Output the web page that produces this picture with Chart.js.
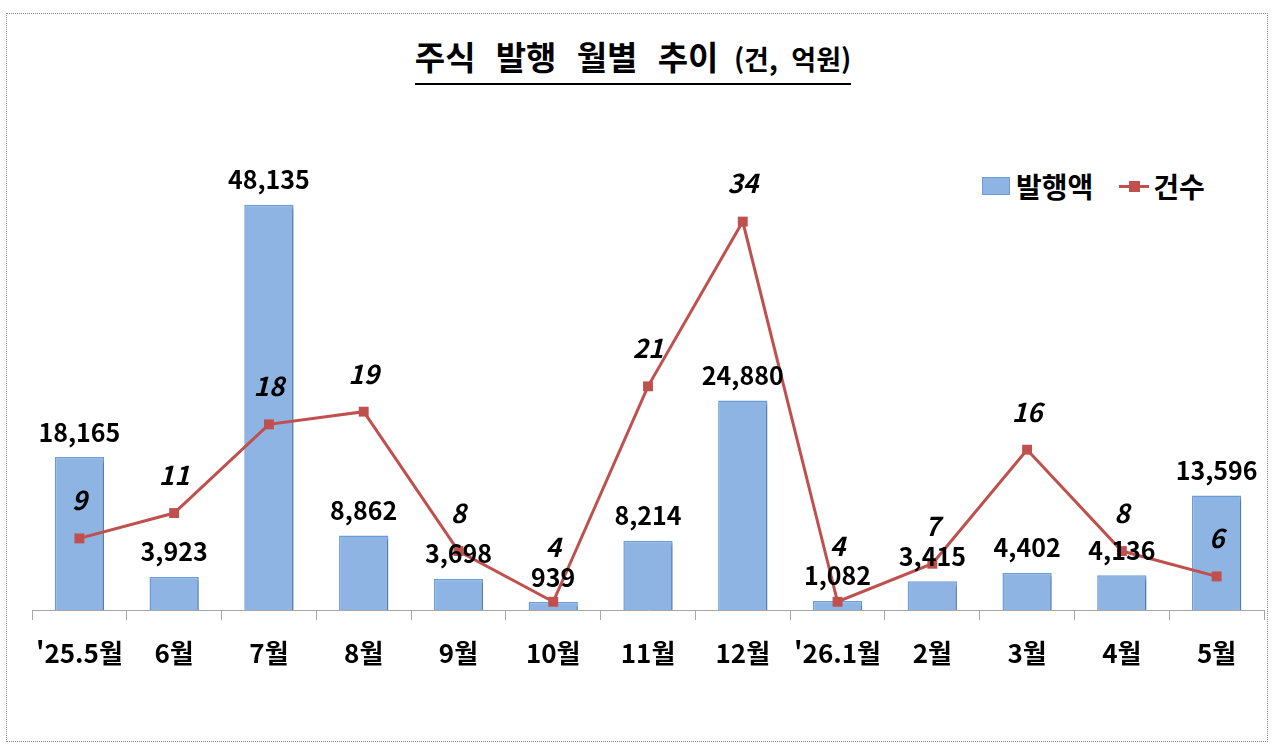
<!DOCTYPE html>
<html lang="ko">
<head>
<meta charset="utf-8">
<title>주식 발행 월별 추이</title>
<script src="https://cdn.jsdelivr.net/npm/chart.js@4.4.1/dist/chart.umd.min.js"></script>
<style>
  html, body { margin: 0; padding: 0; background: #fff; }
  body { width: 1280px; height: 756px; position: relative; overflow: hidden;
         font-family: "Noto Sans CJK KR", sans-serif; }
  .frame { position: absolute; left: 6px; top: 13px; width: 1262px; height: 729px;
           border: 1px dotted #8c8c8c; box-sizing: border-box; }
  .title { position: absolute; left: 0; width: 1266px; top: 38px; text-align: center; }
  .title span.t { display: inline-block; font-weight: 700; color: #000;
                  border-bottom: 2px solid #000; line-height: 36px; padding-bottom: 2px;
                  word-spacing: 11px; }
  .title .big { font-size: 33px; }
  .title .small { font-size: 27px; word-spacing: 6px; }
  .legend { position: absolute; top: 168px; left: 982px; font-weight: 700; font-size: 28px;
            color: #000; display: flex; align-items: center; line-height: 36px; }
  .legend .box { width: 26px; height: 16px; background: #8DB4E2; border: 1px solid #6B9BD8;
                 margin-right: 6px; }
  .legend .ln { position: relative; width: 30px; height: 3px; background: #C0504D;
                margin-left: 26px; margin-right: 4px; }
  .legend .ln::after { content: ""; position: absolute; left: 10px; top: -4px;
                       width: 11px; height: 11px; background: #C0504D; }
  #wrap { position: absolute; left: 0; top: 0; width: 1280px; height: 756px; }
</style>
</head>
<body>
<div class="frame"></div>
<div class="title"><span class="t"><span class="big">주식 발행 월별 추이</span> <span class="small">(건, 억원)</span></span></div>
<div class="legend"><div class="box"></div>발행액<div class="ln"></div>건수</div>
<div id="wrap"><canvas id="chart"></canvas></div>
<script>
const months = ["'25.5월", "6월", "7월", "8월", "9월", "10월", "11월", "12월", "'26.1월", "2월", "3월", "4월", "5월"];
const amounts = [18165, 3923, 48135, 8862, 3698, 939, 8214, 24880, 1082, 3415, 4402, 4136, 13596];
const counts = [9, 11, 18, 19, 8, 4, 21, 34, 4, 7, 16, 8, 6];

const FONT = '"Noto Sans CJK KR", sans-serif';
Chart.defaults.font.family = FONT;

// light drop shadow behind the bars, like the original
const barShadow = {
  id: "barShadow",
  beforeDatasetDraw(chart, args) {
    if (args.index !== 0) return;
    const ctx = chart.ctx;
    ctx.save();
    ctx.shadowColor = "rgba(0,0,0,0.2)";
    ctx.shadowOffsetX = 3;
    ctx.shadowOffsetY = 3;
    ctx.shadowBlur = 2;
  },
  afterDatasetDraw(chart, args) {
    if (args.index !== 0) return;
    chart.ctx.restore();
  },
};

// value labels above bars and line points
const valueLabels = {
  id: "valueLabels",
  afterDatasetsDraw(chart) {
    const ctx = chart.ctx;
    const bars = chart.getDatasetMeta(0).data;
    const pts = chart.getDatasetMeta(1).data;
    ctx.save();
    ctx.fillStyle = "#000";
    ctx.textAlign = "center";
    ctx.textBaseline = "middle";
    bars.forEach((bar, i) => {
      const barY = bar.y - 25;
      ctx.font = "bold 25px " + FONT;
      ctx.fillText(amounts[i].toLocaleString("en-US"), bar.x, barY);

      let lineY = pts[i].y - 38;
      if (Math.abs(lineY - barY) < 26) lineY = barY - 30;
      ctx.font = "italic bold 26px " + FONT;
      ctx.fillText(String(counts[i]), pts[i].x, lineY);
    });
    ctx.restore();
  },
};

new Chart(document.getElementById("chart"), {
  type: "bar",
  data: {
    labels: months,
    datasets: [
      {
        label: "발행액",
        data: amounts,
        yAxisID: "y",
        backgroundColor: "#8DB4E2",
        borderColor: "#6B9BD8",
        borderWidth: 1.5,
        categoryPercentage: 1,
        barPercentage: 0.52,
        order: 1,
      },
      {
        type: "line",
        label: "건수",
        data: counts,
        yAxisID: "y1",
        borderColor: "#C0504D",
        backgroundColor: "#C0504D",
        borderWidth: 3,
        pointStyle: "rect",
        pointRadius: 7,
        pointBorderWidth: 0,
        tension: 0,
        order: 0,
      },
    ],
  },
  options: {
    responsive: true,
    maintainAspectRatio: false,
    animation: false,
    layout: { padding: { top: 105, left: 32, right: 16, bottom: 0 } },
    plugins: {
      legend: { display: false },
      tooltip: { enabled: false },
    },
    scales: {
      x: {
        afterFit(scale) { scale.height = 146; },
        grid: {
          display: true,
          drawOnChartArea: false,
          tickLength: 10,
          color: "#A6A6A6",
        },
        border: { display: true, color: "#A6A6A6", width: 1 },
        ticks: {
          color: "#000",
          padding: 18,
          font: { size: 26, weight: "bold" },
          maxRotation: 0,
          autoSkip: false,
        },
      },
      y: {
        display: false,
        min: 0,
        max: 60000,
      },
      y1: {
        display: false,
        position: "right",
        min: 3.35,
        max: 43.2,
      },
    },
  },
  plugins: [barShadow, valueLabels],
});
</script>
</body>
</html>
